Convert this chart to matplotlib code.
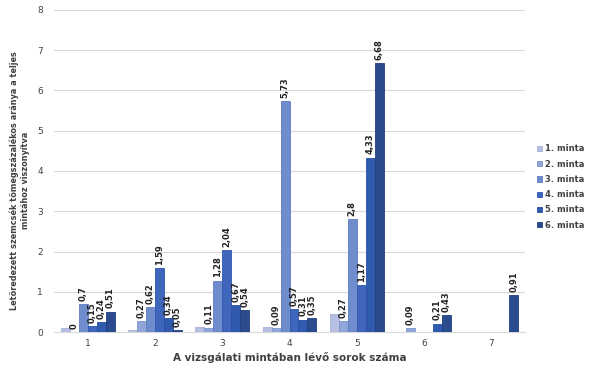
import numpy as np
import matplotlib
matplotlib.use("Agg")
import matplotlib.pyplot as plt

categories = ["1", "2", "3", "4", "5", "6", "7"]
series_names = ["1. minta", "2. minta", "3. minta", "4. minta", "5. minta", "6. minta"]
s1 = [0.10, 0.05, 0.13, 0.12, 0.45, np.nan, np.nan]
s2 = [0.00, 0.27, 0.11, 0.09, 0.27, 0.09, np.nan]
s3 = [0.70, 0.62, 1.28, 5.73, 2.80, np.nan, np.nan]
s4 = [0.15, 1.59, 2.04, 0.57, 1.17, np.nan, np.nan]
s5 = [0.24, 0.34, 0.67, 0.31, 4.33, 0.21, np.nan]
s6 = [0.51, 0.05, 0.54, 0.35, 6.68, 0.43, 0.91]
show_labels = [False, True, True, True, True, True]
colors = ["#b7c0e2", "#91a6d8", "#6f8ccd", "#3f66bc", "#2f5aae", "#2a4b8e"]
edges = ["#a4aed8", "#7c93cc", "#5d7cc3", "#2f57ad", "#2650a3", "#213f7d"]

data = [s1, s2, s3, s4, s5, s6]

fig = plt.figure(figsize=(6, 3.8), dpi=100)
ax = fig.add_axes([0.09, 0.126, 0.785, 0.848])

x = np.arange(len(categories))
n = len(data)
w = 0.8 / n
for i, vals in enumerate(data):
    v = np.array(vals, dtype=float)
    pos = x - 0.4 + w * (i + 0.5)
    ax.bar(pos, np.nan_to_num(v), width=w, color=colors[i], edgecolor=edges[i],
           linewidth=0.6, label=series_names[i], zorder=3)
    if show_labels[i]:
        for p, val in zip(pos, v):
            if np.isnan(val):
                continue
            txt = f"{val:g}".replace(".", ",")
            ax.text(p, val + 0.08, txt, rotation=90, ha="center", va="bottom",
                    fontsize=6, fontweight="bold", color="#222222")

ax.set_ylim(0, 8)
ax.set_xlim(-0.5, len(categories) - 0.5)
ax.set_yticks(range(0, 9))
ax.set_xticks(x)
ax.set_xticklabels(categories)
ax.yaxis.grid(True, color="#d9d9d9", linewidth=0.8, zorder=0)
ax.set_axisbelow(True)
for s in ["top", "right", "left"]:
    ax.spines[s].set_visible(False)
ax.spines["bottom"].set_color("#d9d9d9")
ax.tick_params(axis="both", length=0, labelsize=6.5, labelcolor="#404040")
ax.tick_params(axis="y", pad=8)
ax.tick_params(axis="x", pad=5)

ax.set_xlabel("A vizsgálati mintában lévő sorok száma", fontsize=7.5,
              fontweight="bold", color="#404040", labelpad=3)
ax.set_ylabel("Letöredezett szemcsék tömegszázalékos aránya a teljes\nmintához viszonyítva",
              fontsize=5.9, fontweight="bold", color="#404040",
              linespacing=1.3)
ax.yaxis.set_label_coords(-0.05, 0.47)

leg = ax.legend(loc="center left", bbox_to_anchor=(1.01, 0.45), frameon=False,
                fontsize=6, handlelength=0.6, handleheight=0.6, handletextpad=0.3,
                labelspacing=0.75)
for t in leg.get_texts():
    t.set_fontweight("bold")
    t.set_color("#404040")

fig.savefig("out.png", dpi=100)
